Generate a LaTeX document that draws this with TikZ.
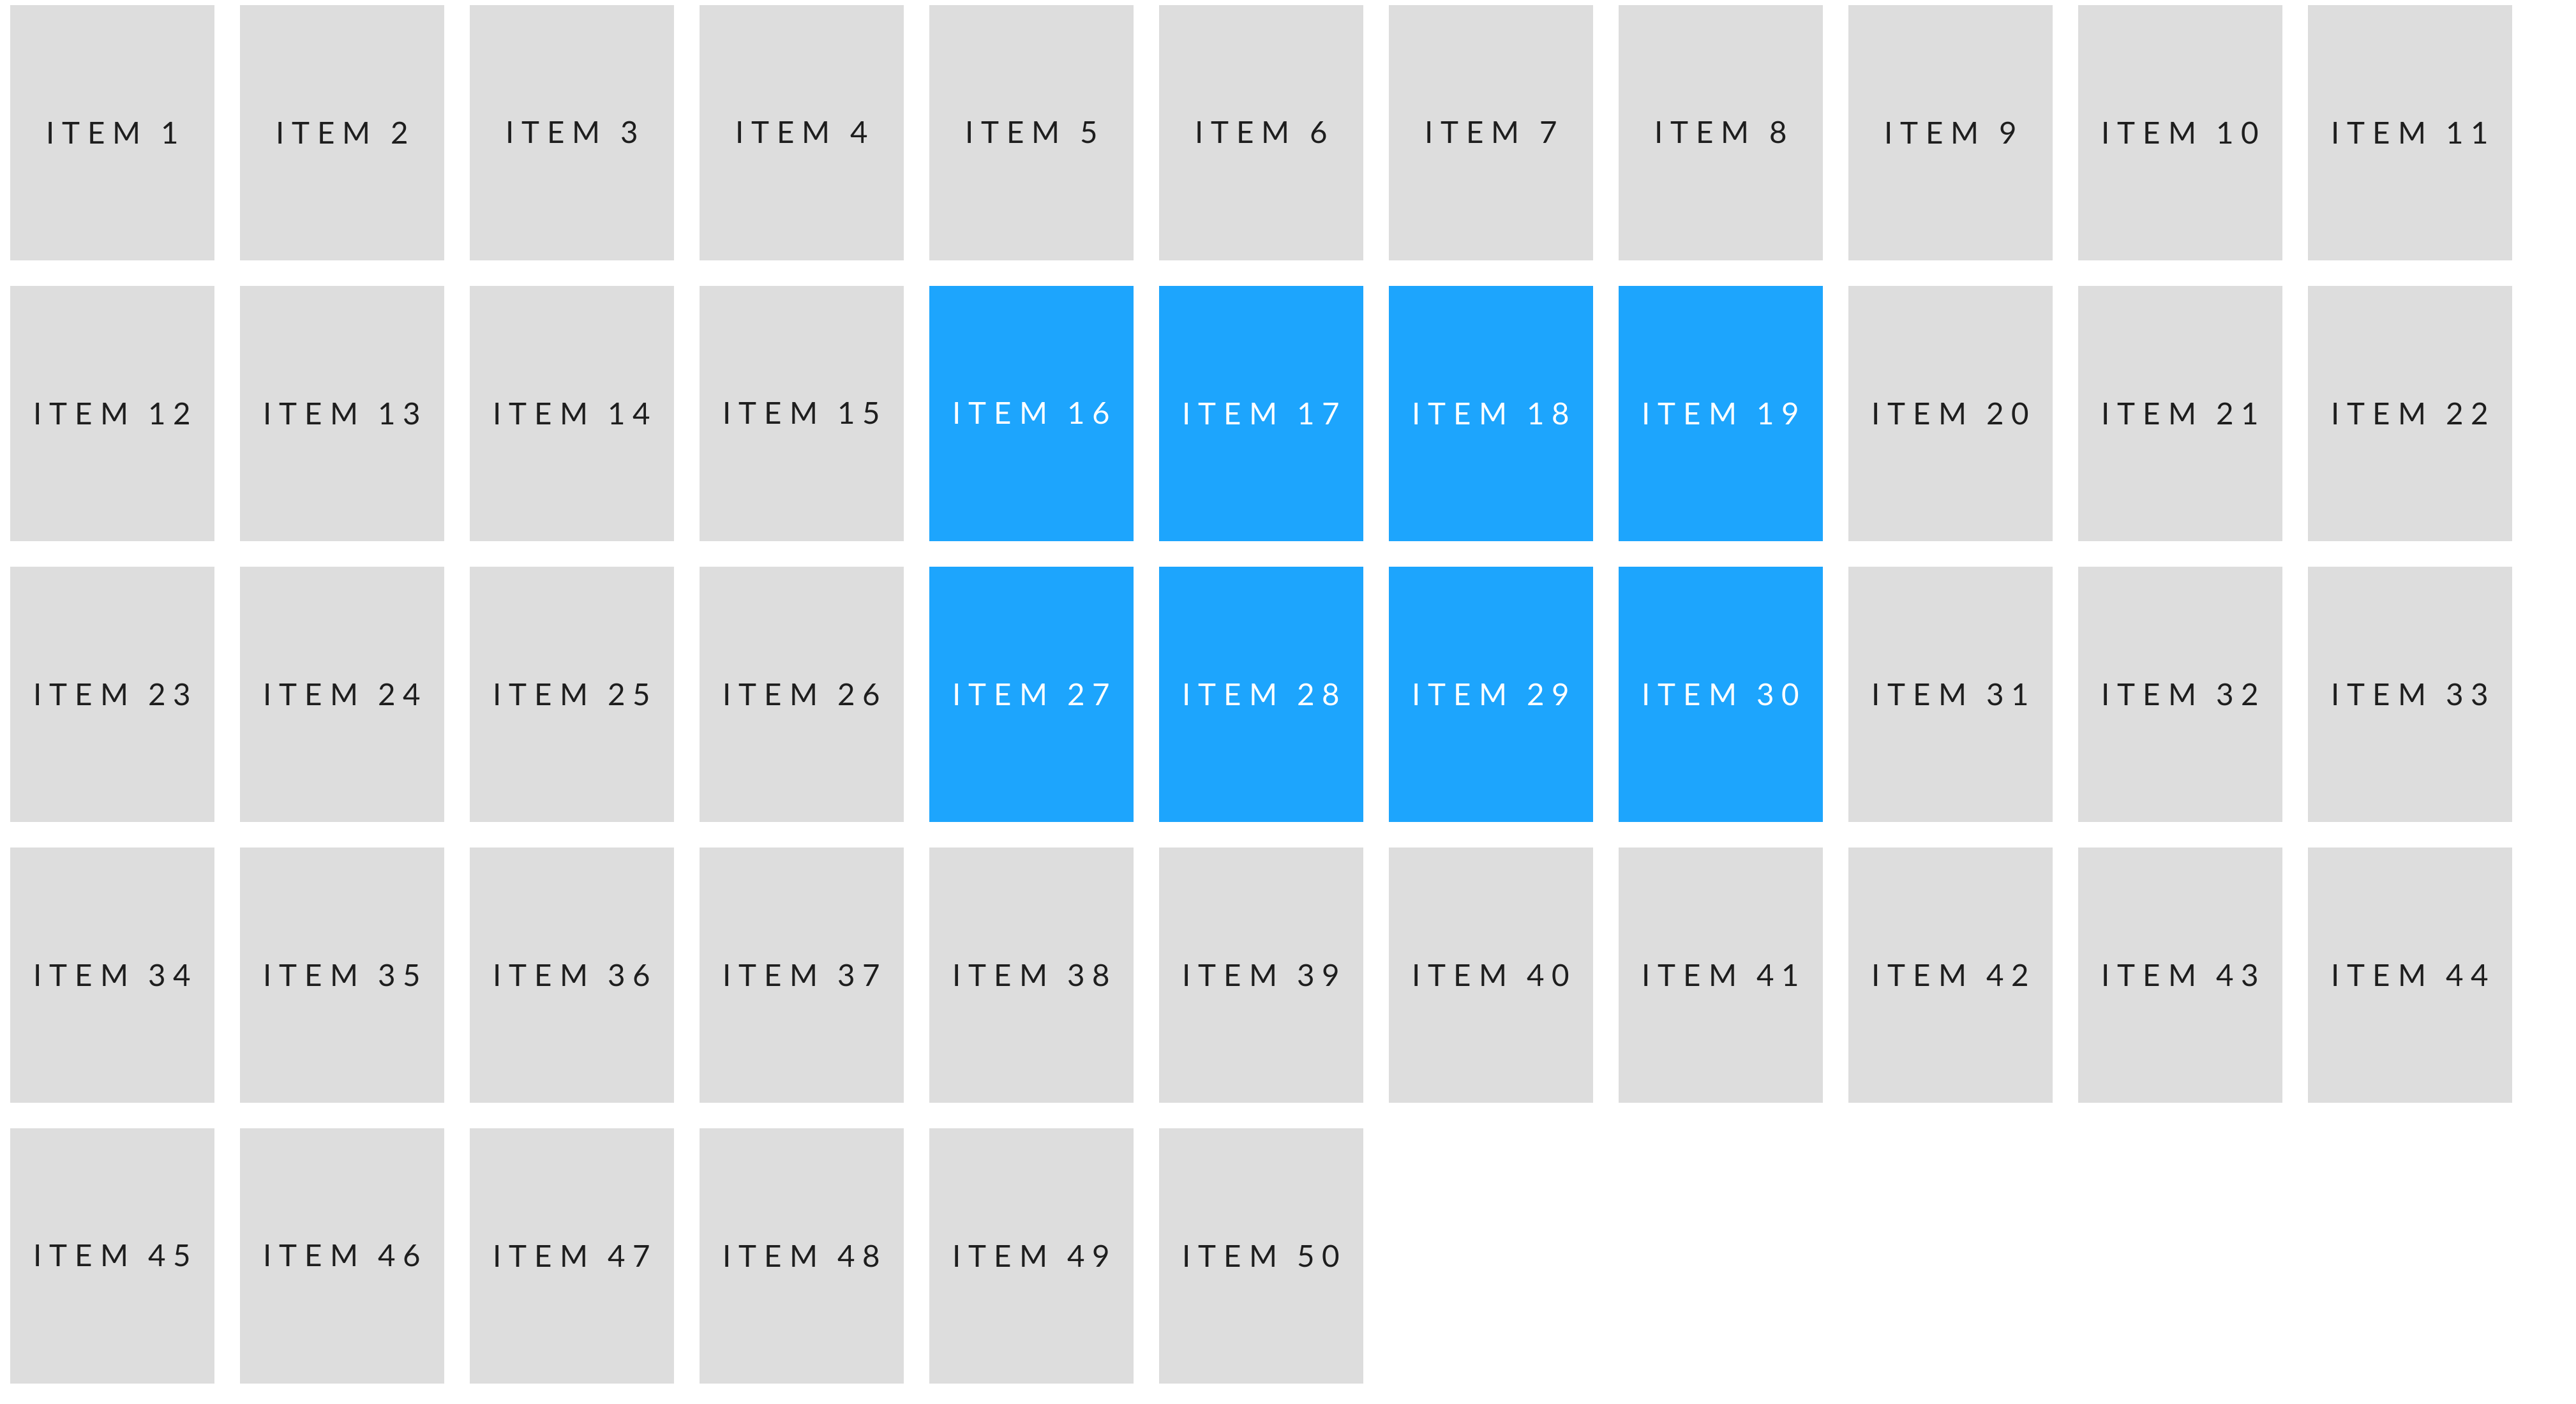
\documentclass[tikz,border=0pt]{standalone}
\usepackage{fontspec}
\newfontfamily\itemfont[LetterSpace=25,WordSpace=1.3]{Lato}
\definecolor{cellgray}{HTML}{DDDDDD}
\definecolor{cellblue}{HTML}{1DA5FD}
\definecolor{textdark}{HTML}{1E1E1E}
\tikzset{
  cell/.style={rectangle, inner sep=0pt, minimum width=3.2cm, minimum height=4cm,
    fill=cellgray, text=textdark, font=\itemfont\fontsize{13.5}{16}\selectfont},
  hot/.style={cell, fill=cellblue, text=white}
}
\begin{document}
\begin{tikzpicture}
\useasboundingbox (0,0) rectangle (40.36,-22);
\foreach \n in {1,...,50}{
  \pgfmathtruncatemacro{\r}{int((\n-1)/11)}
  \pgfmathtruncatemacro{\c}{\n-1-11*\r}
  \pgfmathsetmacro{\x}{1.76+3.6*\c}
  \pgfmathsetmacro{\y}{-(2.08+4.4*\r)}
  \ifnum\n>15 \ifnum\n<20 \def\st{hot}\else\ifnum\n>26 \ifnum\n<31 \def\st{hot}\else\def\st{cell}\fi\else\def\st{cell}\fi\fi\else\def\st{cell}\fi
  \node[\st] (item\n) at (\x,\y) {ITEM \n};
}
\end{tikzpicture}
\end{document}
